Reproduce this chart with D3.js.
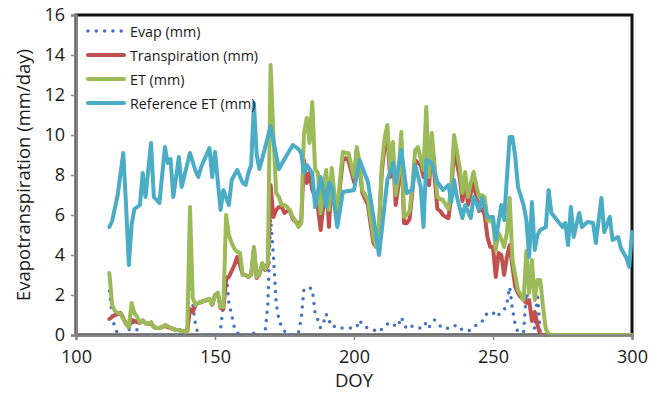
<!DOCTYPE html>
<html>
<head>
<meta charset="utf-8">
<script src="https://cdn.jsdelivr.net/npm/d3@7"></script>
<style>
  html, body { margin: 0; padding: 0; background: #fff; }
  svg { display: block; }
  text { font-family: "Open Sans", "Noto Sans", sans-serif; fill: #1a1a1a; }
</style>
</head>
<body>
<svg id="chart" width="650" height="401"></svg>
<script>
// ---- Data ----
const seriesNames = ["Evap (mm)", "Transpiration (mm)", "ET (mm)", "Reference ET (mm)"];
const xTicks = [100, 150, 200, 250, 300];
const yTicks = [0, 2, 4, 6, 8, 10, 12, 14, 16];
const firstDOY = 112;

// daily values DOY 112..300
const evap = [
  2.2,1.0,0.3,0.1,0,0,0.05,0.2,0.85,0.4,
  0.25,0.1,0,0,0,0,0,0,0,0,
  0,0,0,0,0,0,0,0,0.1,3.6,
  1.5,0.5,0,0,0,0,0,0,0,0,
  0.3,1.5,3.1,1.6,1.0,0.35,0.1,0.05,0,0,
  0,0,0.1,0.05,0,0,0.1,1.5,5.8,4.0,
  1.6,0.75,0.4,0.2,0.1,0.05,0,0,0.1,0.8,
  2.3,2.35,2.35,2.3,1.1,0.75,0.35,0.6,1.05,0.65,
  0.7,0.4,0.35,0.35,0.35,0.35,0.35,0.35,0.35,0.4,
  0.75,0.5,0.4,0.35,0.3,0.25,0.2,0.15,0.3,0.45,
  0.55,0.55,0.6,0.4,0.5,0.9,0.55,0.3,0.4,0.45,
  0.4,0.35,0.35,0.35,0.65,0.4,0.55,0.75,0.55,0.45,
  0.4,0.3,0.35,0.35,0.45,0.5,0.35,0.25,0.2,0.2,
  0.25,0.35,0.5,0.6,0.65,1.0,1.05,1.1,1.15,0.9,
  1.0,1.15,1.25,1.6,2.4,1.3,0.5,0.15,0.1,0.15,
  2.1,1.6,0.8,0.3,2.1,0.1,0,0,0,0,
  0,0,0,0,0,0,0,0,0,0,
  0,0,0,0,0,0,0,0,0,0,
  0,0,0,0,0,0,0,0,0
];
const transpiration = [
  0.8,0.9,1.0,1.05,1.1,0.85,0.55,0.4,0.75,0.7,
  0.65,0.6,0.7,0.6,0.55,0.6,0.4,0.35,0.35,0.4,
  0.45,0.4,0.35,0.3,0.25,0.25,0.2,0.2,0.15,1.3,
  1.15,1.5,1.6,1.65,1.7,1.75,1.8,1.5,2.0,2.1,
  1.35,1.3,2.8,2.9,3.2,3.5,3.9,3.5,3.0,3.0,
  2.9,3.0,4.3,2.85,3.05,3.55,3.25,3.5,7.5,5.9,
  6.25,6.4,6.4,6.1,6.2,6.2,5.8,5.65,5.6,5.6,
  8.75,7.6,8.1,7.25,6.9,6.4,5.25,6.5,7.75,5.4,
  7.9,6.5,5.9,7.5,8.75,8.85,8.7,8.2,7.65,9.25,
  8.3,7.1,6.8,6.5,5.5,4.6,4.4,5.3,8.2,9.4,
  9.9,7.9,9.1,6.5,7.5,9.75,5.6,5.6,5.8,7.2,
  8.75,8.6,8.5,7.9,9.6,7.5,9.3,7.9,6.3,6.2,
  6.0,5.9,5.85,7.0,9.5,8.6,7.9,6.7,7.7,6.5,
  7.1,7.6,6.9,6.2,6.3,6.0,4.9,4.4,4.4,2.9,
  4.1,4.0,3.0,3.9,4.5,3.4,2.4,2.1,1.9,1.75,
  1.6,1.75,0.7,1.15,0.5,0,0,0,0,0,
  0,0,0,0,0,0,0,0,0,0,
  0,0,0,0,0,0,0,0,0,0,
  0,0,0,0,0,0,0,0,0
];
const et = [
  3.1,1.5,1.2,1.1,1.05,0.8,0.6,0.4,1.6,1.1,
  0.9,0.6,0.75,0.6,0.55,0.65,0.4,0.35,0.35,0.4,
  0.5,0.45,0.35,0.3,0.25,0.25,0.2,0.2,0.15,6.4,
  1.85,1.5,1.6,1.65,1.7,1.75,1.8,1.5,2.0,2.1,
  1.4,1.4,6.0,5.0,4.6,4.3,4.15,4.1,3.0,3.0,
  2.9,3.0,4.4,2.9,3.1,3.6,3.3,3.6,13.5,10.0,
  7.1,6.9,6.5,6.5,6.4,6.2,5.9,5.7,5.4,5.6,
  10.1,10.85,9.6,11.65,8.3,8.1,6.1,7.4,8.25,6.25,
  8.35,7.0,6.25,7.8,9.15,9.1,9.1,8.5,7.9,9.4,
  8.6,7.25,7.0,6.75,5.8,4.9,4.4,5.5,8.5,9.85,
  10.5,8.25,9.65,7.0,8.0,10.15,5.9,6.0,6.2,7.5,
  9.25,9.4,8.8,8.25,11.4,7.9,10.1,8.5,6.9,6.8,
  6.75,6.5,6.3,7.5,10.0,9.2,8.4,7.1,8.15,6.9,
  7.6,8.15,7.5,6.9,7.0,6.9,5.75,5.7,5.6,4.25,
  5.1,4.8,4.4,5.1,6.85,3.75,3.0,2.25,2.0,1.75,
  4.2,2.1,3.75,1.75,2.75,2.75,1.4,0.3,0.05,0,
  0,0,0,0,0,0,0,0,0,0,
  0,0,0,0,0,0,0,0,0,0,
  0,0,0,0,0,0,0,0,0
];
// reference ET: DOY / value pairs
const refDOY = [112,113,115,117,118,119,120,121,123,124,125,127,128,130,132,133,134,135,137,138,
  141,143,144,145,148,149,150,152,153,155,156,158,160,161,162,163,164,165,166,168,
  170,172,173,175,178,180,181,182,183,185,186,188,190,191,192,194,196,200,202,205,
  207,209,212,214,215,217,219,221,222,224,225,226,228,230,232,234,235,236,237,239,
  240,242,243,245,246,248,250,251,253,254,256,257,258,259,261,262,263,264,265,266,
  267,269,270,271,273,275,276,277,278,279,281,282,284,286,287,289,290,292,293,295,
  296,298,299,300];
const refET = [5.4,5.7,7.0,9.1,6.5,3.5,5.5,6.3,6.5,8.1,6.9,9.6,6.9,6.6,9.4,8.6,8.8,6.9,8.9,7.4,
  9.1,8.2,7.9,8.4,9.35,7.9,9.15,6.25,7.25,6.5,7.75,8.25,7.6,7.5,8.1,8.5,11.6,9.0,8.3,9.35,
  10.45,9.0,8.3,8.8,9.5,9.3,9.1,8.1,8.5,8.1,6.4,7.9,6.4,7.6,7.4,5.4,7.15,7.25,8.75,7.65,
  5.9,4.0,7.75,8.6,7.6,9.25,7.1,7.25,8.5,7.4,5.4,8.75,8.6,7.65,7.25,7.5,6.65,7.75,6.9,5.85,
  6.5,5.85,6.9,6.25,6.85,5.9,5.9,4.75,6.5,5.75,9.9,9.9,8.9,7.4,6.5,5.75,3.9,6.65,4.25,5.0,
  5.25,5.4,7.25,6.1,5.75,5.4,5.6,4.5,6.4,4.9,6.1,5.4,5.65,5.6,4.6,6.85,5.15,5.9,4.75,4.9,
  4.35,3.85,3.4,5.15];

// ---- Layout ----
const svg = d3.select("#chart");
const plot = { left: 76, right: 632, top: 15, bottom: 335 };
const x = d3.scaleLinear().domain([100, 300]).range([plot.left, plot.right]);
const y = d3.scaleLinear().domain([0, 16]).range([plot.bottom, plot.top]);

const colors = { evap: "#4472C4", tr: "#C0504D", et: "#9BBB59", ref: "#4BACC6" };

const toPts = arr => arr.map((v, i) => [firstDOY + i, v]);
const line = d3.line().x(d => x(d[0])).y(d => y(d[1]));

const g = svg.append("g");

// plot border (top & right black)
g.append("rect")
  .attr("x", plot.left).attr("y", plot.top)
  .attr("width", plot.right - plot.left).attr("height", plot.bottom - plot.top)
  .attr("fill", "none").attr("stroke", "#111").attr("stroke-width", 3);

// series
const common = sel => sel.attr("fill", "none").attr("stroke-linejoin", "round").attr("stroke-linecap", "round");
g.append("path").datum(toPts(evap)).attr("d", line).call(common)
  .attr("stroke", colors.evap).attr("stroke-width", 3.5).attr("stroke-dasharray", "0,8.3");
g.append("path").datum(toPts(transpiration)).attr("d", line).call(common)
  .attr("stroke", colors.tr).attr("stroke-width", 4);
g.append("path").datum(toPts(et)).attr("d", line).call(common)
  .attr("stroke", colors.et).attr("stroke-width", 4);
g.append("path").datum(refDOY.map((d, i) => [d, refET[i]])).attr("d", line).call(common)
  .attr("stroke", colors.ref).attr("stroke-width", 4);

// axes
const axisColor = "#858585";
const yAxis = d3.axisLeft(y).tickValues(yTicks).tickSize(5).tickPadding(6).tickFormat(d3.format("d"));
const gy = svg.append("g").attr("transform", `translate(${plot.left},0)`).call(yAxis);
const xAxis = d3.axisBottom(x).tickValues(xTicks).tickSize(5).tickPadding(10).tickFormat(d3.format("d"));
const gx = svg.append("g").attr("transform", `translate(0,${plot.bottom})`).call(xAxis);
[gx, gy].forEach(a => {
  a.select(".domain").attr("stroke", axisColor).attr("stroke-width", 2.5);
  a.selectAll(".tick line").attr("stroke", axisColor).attr("stroke-width", 1.5);
  a.selectAll(".tick text").style("font-family", '"Open Sans", sans-serif').style("font-size", "18px").attr("fill", "#1a1a1a");
});

// axis titles
svg.append("text").attr("x", x(200)).attr("y", 387).attr("text-anchor", "middle")
  .style("font-size", "18.5px").text("DOY");
svg.append("text").attr("transform", `translate(22,${(plot.top + plot.bottom) / 2}) rotate(-90)`)
  .attr("text-anchor", "middle").attr("dominant-baseline", "central")
  .style("font-size", "18.5px").text("Evapotranspiration (mm/day)");

// legend
const legendKeys = ["evap", "tr", "et", "ref"];
const leg = svg.append("g");
legendKeys.forEach((k, i) => {
  const cy = 31 + i * 24;
  const ln = leg.append("line").attr("x1", 88).attr("x2", 124).attr("y1", cy).attr("y2", cy)
    .attr("stroke", colors[k]).attr("stroke-linecap", "round");
  if (k === "evap") ln.attr("stroke-width", 3.5).attr("stroke-dasharray", "0,8.3");
  else ln.attr("stroke-width", 4);
  leg.append("text").attr("x", 130).attr("y", cy).attr("dominant-baseline", "central")
    .style("font-size", "14.3px").text(seriesNames[i]);
});
</script>
</body>
</html>
